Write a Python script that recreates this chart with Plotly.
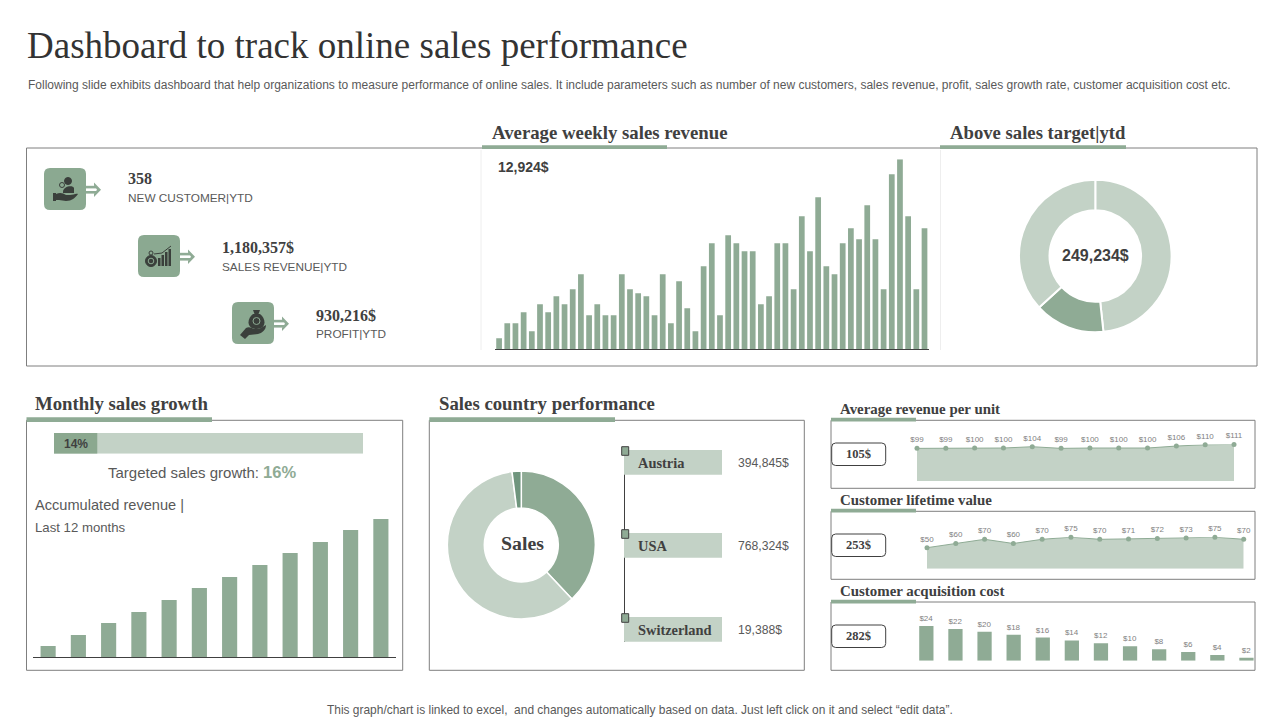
import plotly.graph_objects as go

GREEN = '#8FAB95'
LIGHT = '#C3D2C6'
DEEP = '#6F957D'
TEXT = '#404040'
GREY = '#595959'
EDGE = '#7F7F7F'
SERIF = 'Liberation Serif'
SANS = 'Liberation Sans'

weekly_revenue = [11, 26, 26, 37, 18, 45, 37, 53, 45, 60, 75, 34, 45, 34, 34, 75, 60, 56, 53, 34,
                  75, 26, 68, 41, 18, 83, 106, 34, 114, 106, 98, 98, 45, 53, 106, 106, 60, 133,
                  98, 152, 83, 75, 106, 121, 110, 144, 110, 60, 175, 190, 133, 60, 121]
target_share = [48.3, 14.9, 36.8]
accumulated_revenue = [11, 22, 34, 45, 57, 69, 80, 92, 104, 115, 127, 138]
growth_actual = 14
growth_full = 100
country_share = [38, 60, 2]
countries = ['Austria', 'USA', 'Switzerland']
country_sales = ['394,845$', '768,324$', '19,388$']
revenue_per_unit = [99, 99, 100, 100, 104, 99, 100, 100, 100, 106, 110, 111]
lifetime_value = [50, 60, 70, 60, 70, 75, 70, 71, 72, 73, 75, 70]
acquisition_cost = [24, 22, 20, 18, 16, 14, 12, 10, 8, 6, 4, 2]


def money(values):
  return ['$%d' % v for v in values]


def positions(values):
  return list(range(1, len(values) + 1))


def add_axes(fig, n, left, right, top, bottom, x_range, y_range, baseline=False):
  fig.layout['xaxis%d' % n] = dict(
    domain=[left / 1280, right / 1280], range=x_range, anchor='y%d' % n,
    showgrid=False, zeroline=False, showticklabels=False, ticks='',
    showline=baseline, linecolor=TEXT, linewidth=1,
  )
  fig.layout['yaxis%d' % n] = dict(
    domain=[1 - bottom / 720, 1 - top / 720], range=y_range, anchor='x%d' % n,
    showgrid=False, zeroline=False, showticklabels=False, ticks='', showline=False,
  )


def pie_domain(cx, cy, r):
  return dict(x=[(cx - r) / 1280, (cx + r) / 1280], y=[1 - (cy + r) / 720, 1 - (cy - r) / 720])


def text(fig, x, y, s, size, color=TEXT, family=SANS, bold=False, anchor='left'):
  fig.add_annotation(
    x=x - 1 if anchor == 'left' else x, y=y, xref='x', yref='y',
    text='<b>%s</b>' % s if bold else s, showarrow=False,
    xanchor=anchor, yanchor='middle', borderpad=0,
    font=dict(family=family, size=size, color=color),
  )


def box(fig, x0, y0, x1, y1):
  fig.add_shape(type='rect', x0=x0, y0=y0, x1=x1, y1=y1, xref='x', yref='y',
                line=dict(color=EDGE, width=1), fillcolor='rgba(0,0,0,0)')


def block(fig, x0, y0, x1, y1, color=GREEN):
  fig.add_shape(type='rect', x0=x0, y0=y0, x1=x1, y1=y1, xref='x', yref='y',
                line=dict(width=0), fillcolor=color)


def rounded(x0, y0, x1, y1, r):
  return ('M%g %g L%g %g Q%g %g %g %g L%g %g Q%g %g %g %g L%g %g Q%g %g %g %g L%g %g Q%g %g %g %g Z'
          % (x0 + r, y0, x1 - r, y0, x1, y0, x1, y0 + r, x1, y1 - r, x1, y1, x1 - r, y1,
             x0 + r, y1, x0, y1, x0, y1 - r, x0, y0 + r, x0, y0, x0 + r, y0))


def glyph(fig, ox, oy, path, fill='#3A3F3B'):
  # path is written in the icon's own 42 x 42 box and moved to its place here
  out = []
  number = 0
  for token in path.split():
    if token[0].isalpha():
      out.append(token[0])
      token = token[1:]
      number = 0
      if not token:
        continue
    value = float(token)
    out.append('%g' % (value + (oy if number % 2 else ox)))
    number += 1
  fig.add_shape(type='path', path=' '.join(out), xref='x', yref='y',
                line=dict(width=0), fillcolor=fill)


def ring(fig, ox, oy, cx, cy, r, color='#3A3F3B', fill='rgba(0,0,0,0)', width=1):
  fig.add_shape(type='circle', x0=ox + cx - r, x1=ox + cx + r, y0=oy + cy - r, y1=oy + cy + r,
                xref='x', yref='y', line=dict(color=color, width=width), fillcolor=fill)


def icon_tile(fig, ox, oy):
  fig.add_shape(type='path', path=rounded(ox, oy, ox + 42, oy + 42, 6), xref='x', yref='y',
                line=dict(width=0), fillcolor='#8BA991')
  # double arrow to the right of the tile
  block(fig, ox + 42, oy + 17.8, ox + 52, oy + 20.4)
  block(fig, ox + 42, oy + 23, ox + 52, oy + 25.6)
  glyph(fig, ox, oy, 'M 50 14.5 L 57 21.7 L 50 29 L 50 26 L 53 21.7 L 50 17.5 Z', GREEN)


fig = go.Figure()
fig.add_trace(go.Scatter(x=[], y=[], xaxis='x', yaxis='y'))
fig.update_layout(
  width=1280, height=720, margin=dict(l=0, r=0, t=0, b=0), showlegend=False,
  paper_bgcolor='white', plot_bgcolor='rgba(0,0,0,0)', hovermode=False, barmode='overlay',
  xaxis=dict(domain=[0, 1], range=[0, 1280], visible=False),
  yaxis=dict(domain=[0, 1], range=[720, 0], visible=False),
)

# weekly bars
add_axes(fig, 2, 495, 928.6, 159.3, 349.3, [0.5, 53.5], [0, 190], baseline=True)
fig.add_trace(go.Bar(x=positions(weekly_revenue), y=weekly_revenue, width=0.7,
                     marker=dict(color=GREEN, line=dict(width=0)), xaxis='x2', yaxis='y2'))

# accumulated revenue bars
add_axes(fig, 3, 33, 396, 519, 657, [0.5, 12.5], [0, 138], baseline=True)
fig.add_trace(go.Bar(x=positions(accumulated_revenue), y=accumulated_revenue, width=0.5,
                     marker=dict(color=GREEN, line=dict(width=0)), xaxis='x3', yaxis='y3'))

# progress bar for monthly growth
add_axes(fig, 4, 54, 363, 433, 453.7, [0, growth_full], [-0.5, 0.5])
fig.add_trace(go.Bar(x=[growth_full], y=[0], width=1, orientation='h',
                     marker=dict(color=LIGHT, line=dict(width=0)), xaxis='x4', yaxis='y4'))
fig.add_trace(go.Bar(x=[growth_actual], y=[0], width=1, orientation='h',
                     marker=dict(color='#8BA88F', line=dict(width=0)), xaxis='x4', yaxis='y4'))

# small area charts
add_axes(fig, 5, 917, 1234, 444.4, 481, [1, 12], [0, 111])
fig.add_trace(go.Scatter(
  x=positions(revenue_per_unit), y=revenue_per_unit, mode='lines+markers+text',
  text=money(revenue_per_unit), textposition='top center', cliponaxis=False,
  textfont=dict(family=SANS, size=8, color=EDGE), fill='tozeroy', fillcolor=LIGHT,
  line=dict(color=GREEN, width=1), marker=dict(color=GREEN, size=5), xaxis='x5', yaxis='y5',
))
add_axes(fig, 6, 927, 1243.7, 537.2, 568.7, [1, 12], [0, 75])
fig.add_trace(go.Scatter(
  x=positions(lifetime_value), y=lifetime_value, mode='lines+markers+text',
  text=money(lifetime_value), textposition='top center', cliponaxis=False,
  textfont=dict(family=SANS, size=8, color=EDGE), fill='tozeroy', fillcolor=LIGHT,
  line=dict(color=GREEN, width=1), marker=dict(color=GREEN, size=5), xaxis='x6', yaxis='y6',
))
add_axes(fig, 7, 911.8, 1261, 626, 660.7, [0.5, 12.5], [0, 24])
fig.add_trace(go.Bar(
  x=positions(acquisition_cost), y=acquisition_cost, width=0.49, text=money(acquisition_cost),
  textposition='outside', cliponaxis=False, textfont=dict(family=SANS, size=8, color=EDGE),
  marker=dict(color=GREEN, line=dict(width=0)), xaxis='x7', yaxis='y7',
))

# donuts
fig.add_trace(go.Pie(values=target_share, hole=0.6, sort=False, direction='clockwise', rotation=0,
                     textinfo='none', domain=pie_domain(1095.3, 256, 76.3),
                     marker=dict(colors=[LIGHT, GREEN, LIGHT], line=dict(color='white', width=2))))
fig.add_trace(go.Pie(values=country_share, hole=0.5, sort=False, direction='clockwise', rotation=0,
                     textinfo='none', domain=pie_domain(521.3, 545, 74),
                     marker=dict(colors=[GREEN, LIGHT, DEEP], line=dict(color='white', width=1.5))))

# panels
box(fig, 26.5, 148, 1257, 366)
box(fig, 26.5, 420.3, 402.7, 670.3)
box(fig, 429.3, 420.3, 804.3, 670.3)
box(fig, 831, 420.3, 1255, 488.3)
box(fig, 831, 511.3, 1255, 579.3)
box(fig, 831, 602, 1255, 670.3)
fig.add_shape(type='line', x0=481, x1=481, y0=150, y1=350, xref='x', yref='y',
              line=dict(color='#EEEEEE', width=1))
fig.add_shape(type='line', x0=940.5, x1=940.5, y0=150, y1=350, xref='x', yref='y',
              line=dict(color='#EEEEEE', width=1))

# heading underlines
block(fig, 482, 145.3, 667, 149)
block(fig, 940, 145.3, 1126, 149)
block(fig, 26.5, 417.3, 212, 422)
block(fig, 429.3, 417.3, 615, 422)
block(fig, 831, 417.7, 916, 421.5)
block(fig, 831, 508.7, 916, 512.5)
block(fig, 831, 599.7, 916, 603.5)

# headings
text(fig, 27, 45, 'Dashboard to track online sales performance', 37, color='#333333', family=SERIF)
text(fig, 28, 85, 'Following slide exhibits dashboard that help organizations to measure performance of online sales. '
     'It include parameters such as number of new customers, sales revenue, profit, sales growth rate, '
     'customer acquisition cost etc.', 12, color=GREY)
text(fig, 492, 132, 'Average weekly sales revenue', 18.8, family=SERIF, bold=True)
text(fig, 950, 132, 'Above sales target|ytd', 18.7, family=SERIF, bold=True)
text(fig, 35, 403, 'Monthly sales growth', 18.8, family=SERIF, bold=True)
text(fig, 439, 403, 'Sales country performance', 18.8, family=SERIF, bold=True)
text(fig, 840, 409, 'Average revenue per unit', 14.9, family=SERIF, bold=True)
text(fig, 840, 500, 'Customer lifetime value', 14.9, family=SERIF, bold=True)
text(fig, 840, 591, 'Customer acquisition cost', 14.9, family=SERIF, bold=True)
text(fig, 640, 710, 'This graph/chart is linked to excel,  and changes automatically based on data. '
     'Just left click on it and select “edit data”.', 11.95, color=GREY, anchor='center')

# KPI tiles
icon_tile(fig, 44, 168)
icon_tile(fig, 138, 235)
icon_tile(fig, 232, 302)

hand = 'M 9 25 L 12 25 L 12 26 C 16 24 19 25 22 27 L 26 27 C 29 27 32 25 34 26 C 31 30 28 33 22 33 L 15 32 L 12 32 L 12 33 L 9 33 Z'
ring(fig, 44, 168, 24, 13, 3.5, fill='#3A3F3B')
ring(fig, 44, 168, 18, 17, 2.5)
glyph(fig, 44, 168, 'M 19 24 C 19 18 29 17 30 20 L 30 25 L 19 25 Z')
glyph(fig, 44, 168, hand)

ring(fig, 138, 235, 13, 26, 5.5, fill='#3A3F3B')
ring(fig, 138, 235, 13, 26, 2.8, color='#8BA991')
ring(fig, 138, 235, 13, 18, 2)
for left, height in [(20, 8), (23.5, 11), (27, 14), (30.5, 17)]:
  block(fig, 138 + left, 235 + 31 - height, 138 + left + 2.5, 235 + 31, '#3A3F3B')
fig.add_shape(type='path', path='M 154 254 L 162 253 L 171 246', xref='x', yref='y',
              line=dict(color='#3A3F3B', width=1))

glyph(fig, 232, 302, 'M 21 12 C 15 16 14 27 24.5 27 C 35 27 34 16 28 12 Z')
glyph(fig, 232, 302, 'M 21 8 L 28 8 L 26.5 12 L 22.5 12 Z')
ring(fig, 232, 302, 24.5, 19, 3.5, color='#8BA991')
glyph(fig, 232, 302, 'M 8 33 L 14 26 C 17 24 20 26 22 27 L 27 27 L 34 23 C 34 28 30 31 26 32 L 17 33 L 13 37 Z')

text(fig, 128, 178, '358', 16, family=SERIF, bold=True)
text(fig, 128, 198, 'NEW CUSTOMER|YTD', 11.8, color=GREY)
text(fig, 222, 247, '1,180,357$', 16, family=SERIF, bold=True)
text(fig, 222, 267, 'SALES REVENUE|YTD', 11.8, color=GREY)
text(fig, 316, 315, '930,216$', 16, family=SERIF, bold=True)
text(fig, 316, 334, 'PROFIT|YTD', 11.8, color=GREY)

text(fig, 498, 167, '12,924$', 14, bold=True)
text(fig, 1095.3, 255, '249,234$', 16, bold=True, anchor='center')

# monthly growth panel
text(fig, 75.5, 444, '14%', 12, bold=True, anchor='center')
text(fig, 108, 472, 'Targeted sales growth: <b><span style="color:%s;font-size:16.5px">16%%</span></b>' % GREEN, 15, color=GREY)
text(fig, 35, 505, 'Accumulated revenue |', 14.6, color=GREY)
text(fig, 35, 527, 'Last 12 months', 13.2, color=GREY)

# country panel
text(fig, 522, 542.5, 'Sales', 19.8, family=SERIF, bold=True, anchor='center')
fig.add_shape(type='line', x0=624.5, x1=624.5, y0=450, y1=642, xref='x', yref='y',
              line=dict(color=TEXT, width=1))
for name, sales, top in zip(countries, country_sales, [450, 533, 617]):
  block(fig, 624, top, 722, top + 24.7, LIGHT)
  fig.add_shape(type='rect', x0=621.7, x1=628.7, y0=top - 3.3, y1=top + 5.3, xref='x', yref='y',
                line=dict(color=TEXT, width=1), fillcolor=GREEN)
  text(fig, 638, top + 12.5, name, 14.4, family=SERIF, bold=True)
  text(fig, 738, top + 13, sales, 12.2, color=GREY)

# value pills on the right
for label, top in zip(['105$', '253$', '282$'], [443, 534, 625]):
  fig.add_shape(type='path', path=rounded(831.7, top, 885.7, top + 22.5, 4), xref='x', yref='y',
                line=dict(color=TEXT, width=1), fillcolor='white')
  text(fig, 858.5, top + 11.3, label, 12.5, family=SERIF, bold=True, anchor='center')

fig.write_html('out.html', config=dict(displayModeBar=False),
               post_script="document.body.style.margin='0'")
